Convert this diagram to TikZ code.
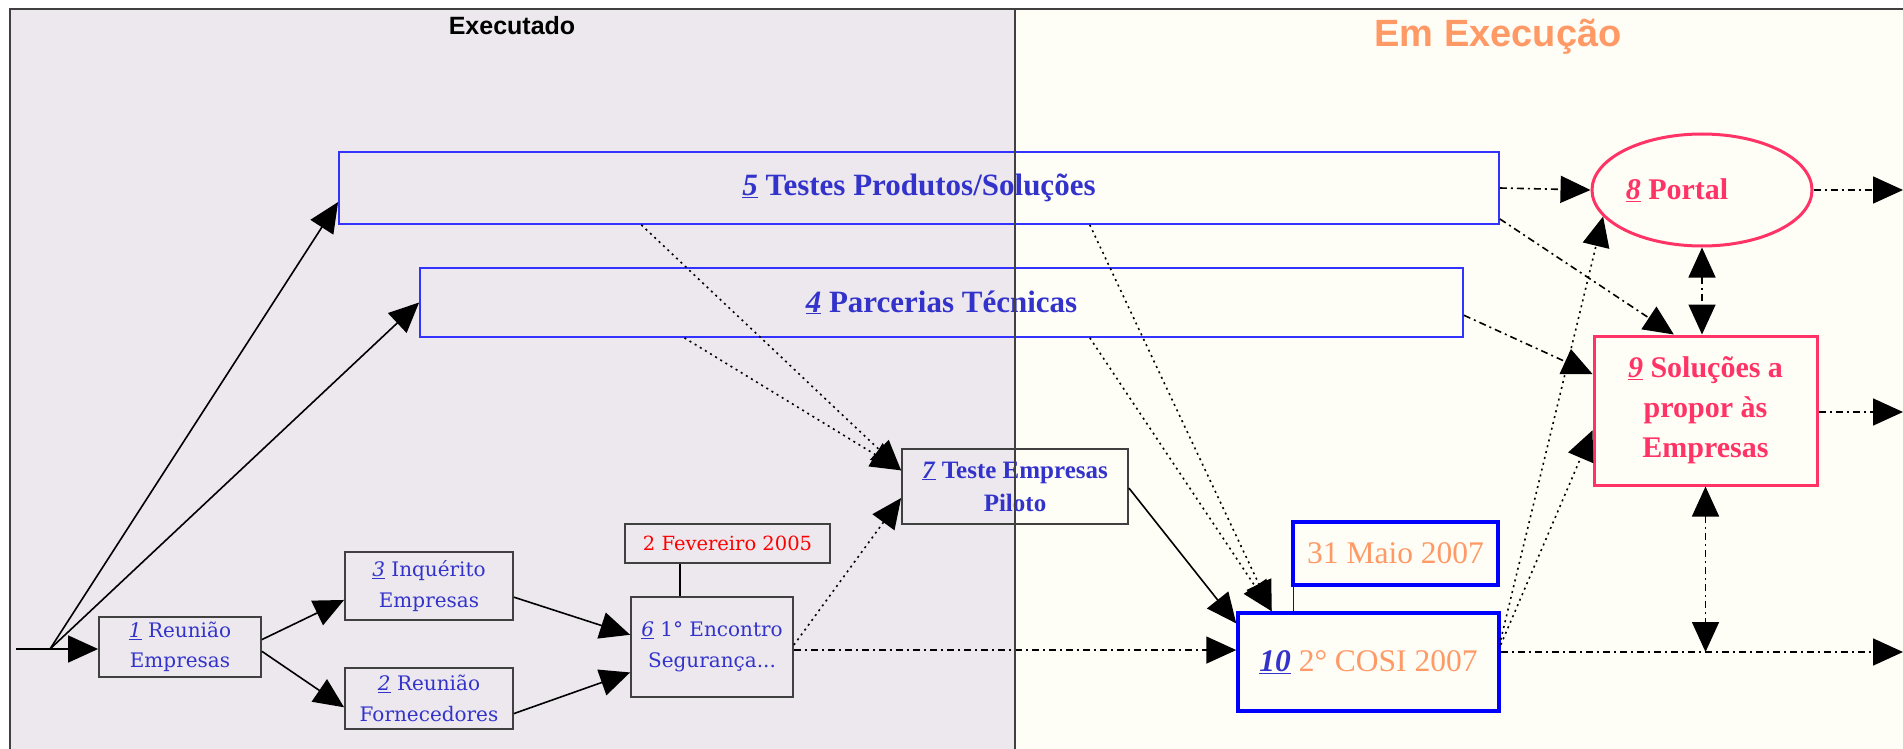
\documentclass[tikz,border=0pt]{standalone}
\usepackage{fontspec}
\setmainfont{Liberation Serif}
\newfontfamily\dvserif{DejaVu Serif}
\newfontfamily\lsans{Liberation Sans}
\usetikzlibrary{arrows.meta,calc,shapes.geometric}
\definecolor{leftbg}{RGB}{236,232,237}
\definecolor{rightbg}{RGB}{255,254,246}
\definecolor{framegray}{RGB}{64,64,64}
\definecolor{txtblue}{RGB}{51,51,204}
\definecolor{lineblue}{RGB}{51,51,255}
\definecolor{pureblue}{RGB}{0,0,255}
\definecolor{pinkc}{RGB}{255,51,102}
\definecolor{orangec}{RGB}{255,153,102}
\definecolor{redc}{RGB}{255,0,0}
\newcommand{\numu}[1]{\underline{\textit{#1}}}
\begin{document}
\begin{tikzpicture}[x=1pt,y=-1pt,
  gbox/.style={draw=framegray, line width=1.8pt, inner sep=0pt, align=center, text=txtblue,
    font=\dvserif\fontsize{20}{31}\selectfont},
  bbox/.style={draw=lineblue, line width=1.8pt, inner sep=0pt, align=center, text=txtblue,
    font=\bfseries\fontsize{31}{36}\selectfont},
  pbox/.style={draw=pinkc, line width=3pt, inner sep=0pt, align=center, text=pinkc,
    font=\bfseries\fontsize{30}{40}\selectfont},
  cbox/.style={draw=pureblue, line width=3.5pt, inner sep=0pt, align=center, text=orangec,
    font=\fontsize{31.5}{36}\selectfont},
  conn/.style={line width=1.6pt, -{Triangle[length=30pt,width=27pt]}},
  conn2/.style={line width=1.6pt, {Triangle[length=30pt,width=27pt]}-{Triangle[length=30pt,width=27pt]}},
  plain/.style={line width=1.6pt},
  dotl/.style={dash pattern=on 2pt off 4pt},
  dashdotl/.style={dash pattern=on 7pt off 4pt on 2pt off 4pt},
]
\useasboundingbox (0,0) rectangle (1903,749);
\fill[white] (0,0) rectangle (1903,749);
\fill[leftbg] (10,9) rectangle (1015,749);
\fill[rightbg] (1015,9) rectangle (1903,749);
\draw[framegray, line width=2.5pt] (10,749) -- (10,9) -- (1903,9);

\node[anchor=base, font=\lsans\bfseries\fontsize{25}{30}\selectfont] (lexec) at (512,35) {Executado};
\node[anchor=base, text=orangec, font=\lsans\bfseries\fontsize{38}{44}\selectfont] (lemexec) at (1498,47) {Em Execução};

% nodes
\node[bbox, minimum width=1160pt, minimum height=72pt] (b5) at (919,188) {\numu{5} Testes Produtos/Soluções};
\node[bbox, minimum width=1043pt, minimum height=69pt] (b4) at (941.5,302.5) {\numu{4} Parcerias Técnicas};
\node[pbox, ellipse, minimum width=220pt, minimum height=112pt] (portal) at (1702,190) {\numu{8} Portal\hspace*{50pt}};
\node[pbox, minimum width=223pt, minimum height=149pt] (b9) at (1705.5,410.5) {\numu{9} Soluções a\\propor às\\Empresas};
\node[gbox, font=\bfseries\fontsize{25}{33}\selectfont, minimum width=226pt, minimum height=75pt] (b7) at (1015,486.5) {\numu{7} Teste Empresas\\Piloto};
\node[cbox, minimum width=205pt, minimum height=63pt] (maio) at (1395.5,553.5) {31 Maio 2007};
\node[cbox, minimum width=261pt, minimum height=98pt] (b10) at (1368.5,662) {\textcolor{txtblue}{\bfseries\numu{10}} 2° COSI 2007};
\node[gbox, text=redc, font=\dvserif\fontsize{19.5}{24}\selectfont, minimum width=205pt, minimum height=39pt] (fev) at (727.5,543.5) {2 Fevereiro 2005};
\node[gbox, minimum width=162pt, minimum height=100pt] (b6) at (712,647) {\numu{6} 1° Encontro\\Segurança...};
\node[gbox, minimum width=168pt, minimum height=68pt] (b3) at (429,586) {\numu{3} Inquérito\\Empresas};
\node[gbox, minimum width=168pt, minimum height=61pt] (b2) at (429,698.5) {\numu{2} Reunião\\Fornecedores};
\node[gbox, font=\dvserif\fontsize{20}{30}\selectfont, minimum width=162pt, minimum height=60pt] (b1) at (180,647) {\numu{1} Reunião\\Empresas};

\coordinate (s0) at (16,649);
\coordinate (s1) at (50,649);
\coordinate (e1) at (1903,190);
\coordinate (e2) at (1903,412);
\coordinate (e3) at (1903,652);

% solid connectors
\draw[conn] (s0) -- (s0 -| b1.west);
\draw[conn] (s1) -- ($(b5.north west)!0.69!(b5.south west)$);
\draw[conn] (s1) -- (b4.west);
\draw[conn] ($(b1.north east)!0.38!(b1.south east)$) -- ($(b3.north west)!0.70!(b3.south west)$);
\draw[conn] ($(b1.north east)!0.57!(b1.south east)$) -- ($(b2.north west)!0.64!(b2.south west)$);
\draw[conn] ($(b3.north east)!0.66!(b3.south east)$) -- ($(b6.north west)!0.38!(b6.south west)$);
\draw[conn] ($(b2.north east)!0.74!(b2.south east)$) -- ($(b6.north west)!0.75!(b6.south west)$);
\coordinate (fv) at ($(fev.south west)!0.27!(fev.south east)$);
\draw[plain] (fv) -- (fv |- b6.north);
\draw[conn] ($(b7.north east)!0.52!(b7.south east)$) -- ($(b10.north west)!0.12!(b10.south west)$);
\draw[draw=pureblue, line width=1.5pt] ([xshift=2pt]maio.south west) -- ([xshift=2pt]maio.south west |- b10.north);

% dotted connectors
\draw[conn, dotl] ($(b5.south west)!0.261!(b5.south east)$) -- ($(b7.north west)!0.29!(b7.south west)$);
\draw[conn, dotl] ($(b4.south west)!0.254!(b4.south east)$) -- ($(b7.north west)!0.29!(b7.south west)$);
\draw[conn, dotl] ($(b6.north east)!0.48!(b6.south east)$) -- ($(b7.north west)!0.65!(b7.south west)$);
\draw[conn, dotl] ($(b5.south west)!0.647!(b5.south east)$) -- ($(b10.north west)!0.134!(b10.north east)$);
\draw[conn, dotl] ($(b4.south west)!0.642!(b4.south east)$) -- ($(b10.north west)!0.134!(b10.north east)$);
\draw[conn, dotl] ($(b10.north east)!0.28!(b10.south east)$) -- (portal.195);
\draw[conn, dotl] ($(b10.north east)!0.33!(b10.south east)$) -- ($(b9.north west)!0.63!(b9.south west)$);

% dash-dot connectors
\coordinate (h6) at ($(b6.north east)!0.53!(b6.south east)$);
\draw[conn, dashdotl] (h6) -- (h6 -| b10.west);
\draw[conn, dashdotl] (e3 -| b10.east) -- (e3);
\draw[conn, dashdotl] (b5.east) -- (portal.west);
\draw[conn, dashdotl] ($(b5.north east)!0.92!(b5.south east)$) -- ($(b9.north west)!0.36!(b9.north east)$);
\draw[conn, dashdotl] ($(b4.north east)!0.68!(b4.south east)$) -- ($(b9.north west)!0.26!(b9.south west)$);
\draw[conn, dashdotl] (portal.east) -- (e1);
\draw[conn, dashdotl] (e2 -| b9.east) -- (e2);
\draw[conn2, dashdotl] (portal.south) -- (portal.south |- b9.north);
\draw[conn2, dashdotl] (b9.south) -- (b9.south |- e3);

% divider on top
\draw[framegray, line width=2pt] (1015,9) -- (1015,749);
\end{tikzpicture}
\end{document}
